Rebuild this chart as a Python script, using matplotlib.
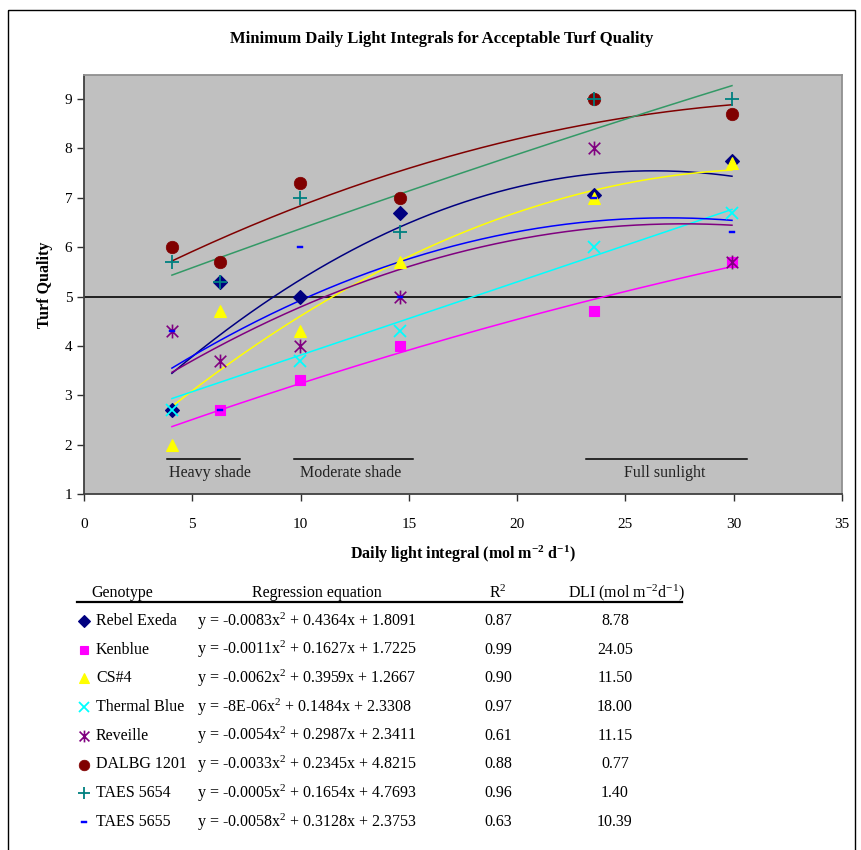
import numpy as np
import matplotlib
matplotlib.use("Agg")
import matplotlib.pyplot as plt
from matplotlib.path import Path
from matplotlib.patches import Rectangle

plt.rcParams['font.family'] = ['Liberation Serif', 'DejaVu Serif']
plt.rcParams['mathtext.fontset'] = 'custom'
plt.rcParams['mathtext.rm'] = 'Liberation Serif'
plt.rcParams['mathtext.it'] = 'Liberation Serif:italic'
plt.rcParams['mathtext.bf'] = 'Liberation Serif:bold'

nan = np.nan
# ---------------- data ----------------
dli = [4.06, 6.28, 9.97, 14.6, 23.55, 29.92]
genotypes = ["Rebel Exeda", "Kenblue", "CS#4", "Thermal Blue", "Reveille",
             "DALBG 1201", "TAES 5654", "TAES 5655"]
rebel_exeda = [2.7, 5.3, 5.0, 6.7, 7.05, 7.75]
kenblue = [nan, 2.7, 3.3, 4.0, 4.7, 5.7]
cs4 = [2.0, 4.7, 4.3, 5.7, 7.0, 7.7]
thermal_blue = [2.7, nan, 3.7, 4.3, 6.0, 6.7]
reveille = [4.3, 3.7, 4.0, 5.0, 8.0, 5.7]
dalbg_1201 = [6.0, 5.7, 7.3, 7.0, 9.0, 8.7]
taes_5654 = [5.7, 5.3, 7.0, 6.3, 9.0, 9.0]
taes_5655 = [4.3, 2.7, 6.0, 5.0, 7.0, 6.3]

coef_a = [-0.0083, -0.0011, -0.0062, -8e-06, -0.0054, -0.0033, -0.0005, -0.0058]
coef_b = [0.4364, 0.1627, 0.3959, 0.1484, 0.2987, 0.2345, 0.1654, 0.3128]
coef_c = [1.8091, 1.7225, 1.2667, 2.3308, 2.3411, 4.8215, 4.7693, 2.3753]
eq_texts = ["y = -0.0083x$^{2}$ + 0.4364x + 1.8091",
            "y = -0.0011x$^{2}$ + 0.1627x + 1.7225",
            "y = -0.0062x$^{2}$ + 0.3959x + 1.2667",
            "y = -8E-06x$^{2}$ + 0.1484x + 2.3308",
            "y = -0.0054x$^{2}$ + 0.2987x + 2.3411",
            "y = -0.0033x$^{2}$ + 0.2345x + 4.8215",
            "y = -0.0005x$^{2}$ + 0.1654x + 4.7693",
            "y = -0.0058x$^{2}$ + 0.3128x + 2.3753"]
r2_texts = ["0.87", "0.99", "0.90", "0.97", "0.61", "0.88", "0.96", "0.63"]
dli_texts = ["8.78", "24.05", "11.50", "18.00", "11.15", "0.77", "1.40", "10.39"]

x_ticks = [0, 5, 10, 15, 20, 25, 30, 35]
y_ticks = [1, 2, 3, 4, 5, 6, 7, 8, 9]
zones = ["Heavy shade", "Moderate shade", "Full sunlight"]
zone_start = [3.85, 9.7, 23.2]
zone_end = [7.2, 15.2, 30.6]
zone_label_x = [5.8, 12.3, 26.8]

series = [rebel_exeda, kenblue, cs4, thermal_blue, reveille, dalbg_1201, taes_5654, taes_5655]

# ---------------- styles ----------------
ast = Path([(-1, -1), (1, 1), (-1, 1), (1, -1), (0, -1.2), (0, 1.2)],
           [Path.MOVETO, Path.LINETO, Path.MOVETO, Path.LINETO, Path.MOVETO, Path.LINETO])
dash = Path([(-1, -0.4), (1, -0.4), (1, 0.4), (-1, 0.4), (-1, -0.4)],
            [Path.MOVETO, Path.LINETO, Path.LINETO, Path.LINETO, Path.CLOSEPOLY])
styles = [
    dict(marker='D', ms=7.5, mfc='#000080', mec='#000080', mew=0.8),
    dict(marker='s', ms=7.5, mfc='#FF00FF', mec='#FF00FF', mew=0.8),
    dict(marker='^', ms=9, mfc='#FFFF00', mec='#FFFF00', mew=0.8),
    dict(marker='x', ms=8.5, mfc='none', mec='#00FFFF', mew=1.3),
    dict(marker=ast, ms=10, mfc='none', mec='#800080', mew=1.2),
    dict(marker='o', ms=9, mfc='#800000', mec='#800000', mew=0.5),
    dict(marker='+', ms=10, mfc='none', mec='#008080', mew=1.3),
    dict(marker=dash, ms=5, mfc='#0000FF', mec='#0000FF', mew=0.3),
]
line_colors = ['#000080', '#FF00FF', '#FFFF00', '#00FFFF', '#800080', '#800000', '#339966', '#0000FF']

W, H = 862, 850
fig = plt.figure(figsize=(W / 100, H / 100), dpi=100)
fig.patch.set_facecolor('white')

L, R, T, B = 84, 842, 75, 494
ax = fig.add_axes([L / W, 1 - B / H, (R - L) / W, (B - T) / H])
ax.set_facecolor('#C0C0C0')
ax.set_xlim(0, 35)
ax.set_ylim(1, 1 + (B - T) / 49.375)

# trend lines
xs = np.linspace(min(dli), max(dli), 200)
for i in range(len(series)):
    ys = coef_a[i] * xs ** 2 + coef_b[i] * xs + coef_c[i]
    ax.plot(xs, ys, color=line_colors[i], lw=1.1, zorder=2)

# points
for i, s in enumerate(series):
    ax.plot(dli, s, linestyle='none', zorder=3 + i, **styles[i])

ax.axhline(5, color='#202020', lw=1.4, zorder=1.5)

for i, z in enumerate(zones):
    ax.plot([zone_start[i], zone_end[i]], [1.71, 1.71], color='black', lw=1.1, zorder=2)
    ax.text(zone_label_x[i], 1.43, z, ha='center', va='center', fontsize=11.5, color='#222222')

ax.set_xticks(x_ticks)
ax.set_yticks(y_ticks)
ax.tick_params(direction='out', length=5, width=1, colors='#303030', labelsize=11, labelcolor='black')
ax.tick_params(axis='x', pad=12)
for sp in ['left', 'bottom']:
    ax.spines[sp].set_color('#404040')
    ax.spines[sp].set_linewidth(1.3)
for sp in ['top', 'right']:
    ax.spines[sp].set_color('#909090')
    ax.spines[sp].set_linewidth(1.3)

# overlay in pixel space
ov = fig.add_axes([0, 0, 1, 1])
ov.set_xlim(0, W)
ov.set_ylim(H, 0)
ov.axis('off')
ov.patch.set_alpha(0)

ov.add_patch(Rectangle((8.5, 9.5), 847, 860, fill=False, edgecolor='black', lw=1.0))

ov.text(442, 39, "Minimum Daily Light Integrals for Acceptable Turf Quality",
        ha='center', va='center', fontsize=12, fontweight='bold')
ov.text(45, 285, "Turf Quality", rotation=90, ha='center', va='center',
        fontsize=11.5, fontweight='bold')
ov.text(463, 554, r"Daily light integral (mol m$^{\mathbf{-2}}$ d$^{\mathbf{-1}}$)",
        ha='center', va='center', fontsize=11.5, fontweight='bold')

# table
fs = 11.5
ov.text(91, 593, "Genotype", ha='left', va='center', fontsize=fs)
ov.text(317, 593, "Regression equation", ha='center', va='center', fontsize=fs)
ov.text(498, 593, r"R$^{2}$", ha='center', va='center', fontsize=fs)
ov.text(626, 593, r"DLI (mol m$^{-2}$d$^{-1}$)", ha='center', va='center', fontsize=fs)
ov.plot([77, 682], [602, 602], color='black', lw=1.6)

for i, g in enumerate(genotypes):
    y = 621 + i * 28.7
    st = dict(styles[i])
    st['ms'] = st['ms'] * 0.85
    ov.plot([84], [y], linestyle='none', **st)
    ov.text(96, y, g, ha='left', va='center', fontsize=fs)
    ov.text(197, y, eq_texts[i], ha='left', va='center', fontsize=fs)
    ov.text(498, y, r2_texts[i], ha='center', va='center', fontsize=fs)
    ov.text(615, y, dli_texts[i], ha='center', va='center', fontsize=fs)

fig.savefig("out.png", dpi=100)
